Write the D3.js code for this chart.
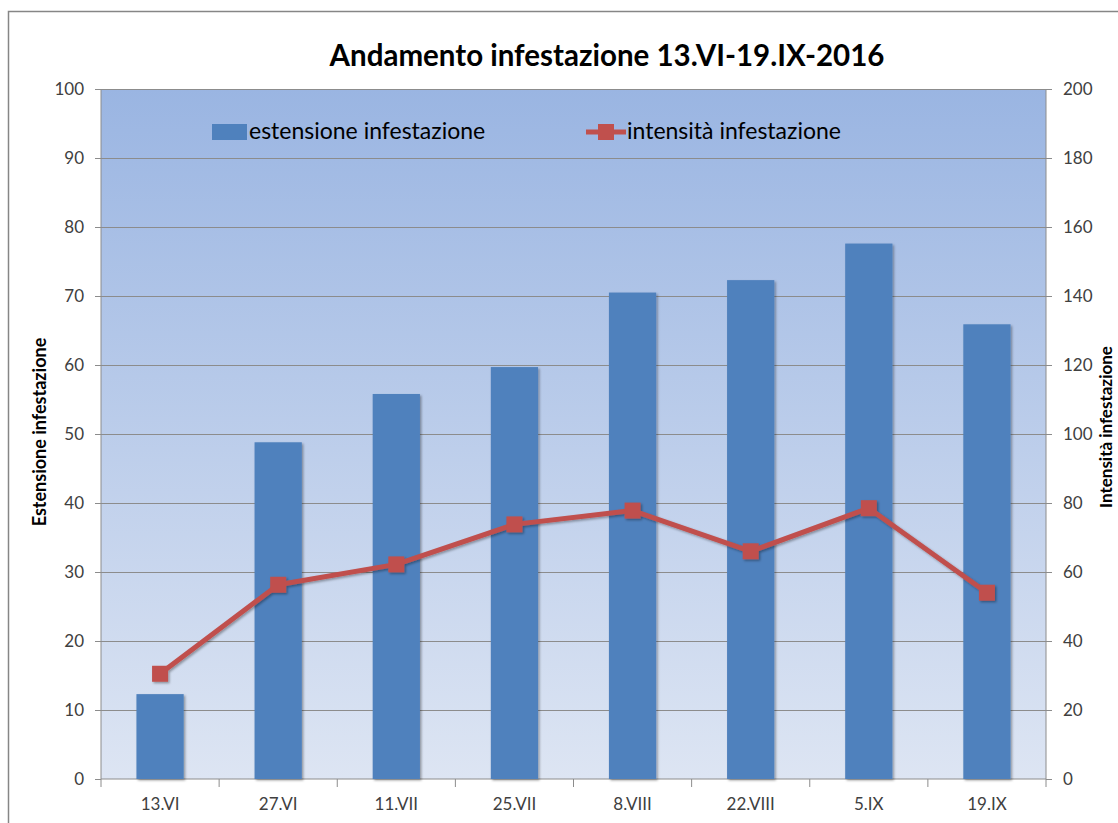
<!DOCTYPE html>
<html>
<head>
<meta charset="utf-8">
<script src="https://cdn.jsdelivr.net/npm/d3@7"></script>
<style>
  body { margin: 0; background: #fff; }
  text { font-family: Lato, "Open Sans", sans-serif; }
</style>
</head>
<body>
<svg id="chart" width="1118" height="823"></svg>
<script>
const categories = ["13.VI", "27.VI", "11.VII", "25.VII", "8.VIII", "22.VIII", "5.IX", "19.IX"];
const estensione = [12.3, 48.8, 55.8, 59.7, 70.5, 72.3, 77.6, 65.9];
const intensita = [30.5, 56.3, 62.2, 73.8, 77.8, 66.0, 78.5, 54.0];
const leftTicks = d3.range(0, 101, 10);
const rightTicks = d3.range(0, 201, 20);

const W = 1118, H = 823;
const plot = {left: 101, right: 1046, top: 89, bottom: 779};
const blue = "#4f81bd", red = "#c0504d", grid = "#8c8c8c", tickTxt = "#404040";

const svg = d3.select("#chart");
const defs = svg.append("defs");

const grad = defs.append("linearGradient")
    .attr("id", "bg").attr("x1", 0).attr("y1", 0).attr("x2", 0).attr("y2", 1);
grad.append("stop").attr("offset", "0%").attr("stop-color", "#9ab5e2");
grad.append("stop").attr("offset", "100%").attr("stop-color", "#dde5f3");

const shadow = defs.append("filter").attr("id", "shadow")
    .attr("x", "-20%").attr("y", "-20%").attr("width", "140%").attr("height", "140%");
shadow.append("feDropShadow").attr("dx", 1.5).attr("dy", 1.5)
    .attr("stdDeviation", 1.2).attr("flood-color", "#000").attr("flood-opacity", 0.35);

// outer chart border
svg.append("rect")
    .attr("x", 8.5).attr("y", 11.5).attr("width", W + 20).attr("height", H + 20)
    .attr("fill", "#fff").attr("stroke", "#868686").attr("stroke-width", 1.5);

const x = d3.scaleBand().domain(categories).range([plot.left, plot.right]).padding(0);
const yL = d3.scaleLinear().domain([0, 100]).range([plot.bottom, plot.top]);
const yR = d3.scaleLinear().domain([0, 200]).range([plot.bottom, plot.top]);

// plot background
svg.append("rect")
    .attr("x", plot.left).attr("y", plot.top)
    .attr("width", plot.right - plot.left).attr("height", plot.bottom - plot.top)
    .attr("fill", "url(#bg)");

// gridlines
svg.append("g").selectAll("line").data(leftTicks.slice(1)).join("line")
    .attr("x1", plot.left).attr("x2", plot.right)
    .attr("y1", d => Math.round(yL(d)) + 0.5).attr("y2", d => Math.round(yL(d)) + 0.5)
    .attr("stroke", grid).attr("stroke-width", 1);

// left axis
const axL = svg.append("g").attr("transform", `translate(${plot.left},0)`)
    .call(d3.axisLeft(yL).tickValues(leftTicks).tickSize(6).tickPadding(11));
// right axis
const axR = svg.append("g").attr("transform", `translate(${plot.right},0)`)
    .call(d3.axisRight(yR).tickValues(rightTicks).tickSize(6).tickPadding(11));
// bottom axis, ticks between categories
const axB = svg.append("g").attr("transform", `translate(0,${plot.bottom})`)
    .call(d3.axisBottom(x).tickSize(0).tickPadding(19));
axB.selectAll(".tick").append("line")
    .attr("x1", -x.step() / 2).attr("x2", -x.step() / 2).attr("y1", 0).attr("y2", 8);
axB.append("line").attr("x1", plot.right).attr("x2", plot.right).attr("y1", 0).attr("y2", 8);

[axL, axR, axB].forEach(a => {
  a.select(".domain").attr("stroke", grid);
  a.selectAll("line").attr("stroke", grid);
  a.selectAll("text").attr("fill", tickTxt).style("font-size", "17px")
      .style("font-family", "Lato, 'Open Sans', sans-serif");
});
axL.select(".domain").attr("d", `M0,${plot.top}V${plot.bottom}`);
axR.select(".domain").attr("d", `M0,${plot.top}V${plot.bottom}`);
axB.select(".domain").attr("d", `M${plot.left},0H${plot.right}`);

// bars
const bw = x.bandwidth() * 0.4;
svg.append("g").selectAll("rect").data(estensione).join("rect")
    .attr("x", (d, i) => x(categories[i]) + (x.bandwidth() - bw) / 2)
    .attr("y", d => yL(d))
    .attr("width", bw)
    .attr("height", d => plot.bottom - yL(d))
    .attr("fill", blue)
    .attr("filter", "url(#shadow)");

// line
const cx = i => x(categories[i]) + x.bandwidth() / 2;
const lineGen = d3.line().x((d, i) => cx(i)).y(d => yR(d));
const lg = svg.append("g").attr("filter", "url(#shadow)");
lg.append("path").datum(intensita)
    .attr("d", lineGen).attr("fill", "none")
    .attr("stroke", red).attr("stroke-width", 5).attr("stroke-linejoin", "round");
lg.selectAll("rect").data(intensita).join("rect")
    .attr("x", (d, i) => cx(i) - 8).attr("y", d => yR(d) - 8)
    .attr("width", 16).attr("height", 16).attr("fill", red);

// title
svg.append("text")
    .attr("x", 607).attr("y", 66).attr("text-anchor", "middle")
    .style("font-size", "29.5px").style("font-weight", "bold").attr("fill", "#000")
    .text("Andamento infestazione 13.VI-19.IX-2016");

// axis titles
svg.append("text")
    .attr("transform", "translate(46,432) rotate(-90)")
    .attr("text-anchor", "middle")
    .style("font-size", "18px").style("font-weight", "bold").attr("fill", "#000")
    .text("Estensione infestazione");
svg.append("text")
    .attr("transform", "translate(1112,427) rotate(-90)")
    .attr("text-anchor", "middle")
    .style("font-size", "17px").style("font-weight", "bold").attr("fill", "#000")
    .text("Intensità infestazione");

// legend
const leg = svg.append("g");
leg.append("rect").attr("x", 212).attr("y", 124).attr("width", 35).attr("height", 16).attr("fill", blue);
leg.append("text").attr("x", 249).attr("y", 139)
    .style("font-size", "23px").attr("fill", "#000").text("estensione infestazione");
leg.append("line").attr("x1", 586).attr("x2", 626).attr("y1", 132).attr("y2", 132)
    .attr("stroke", red).attr("stroke-width", 5);
leg.append("rect").attr("x", 598).attr("y", 124).attr("width", 16).attr("height", 16).attr("fill", red);
leg.append("text").attr("x", 627).attr("y", 139)
    .style("font-size", "23px").attr("fill", "#000").text("intensità infestazione");
</script>
</body>
</html>
